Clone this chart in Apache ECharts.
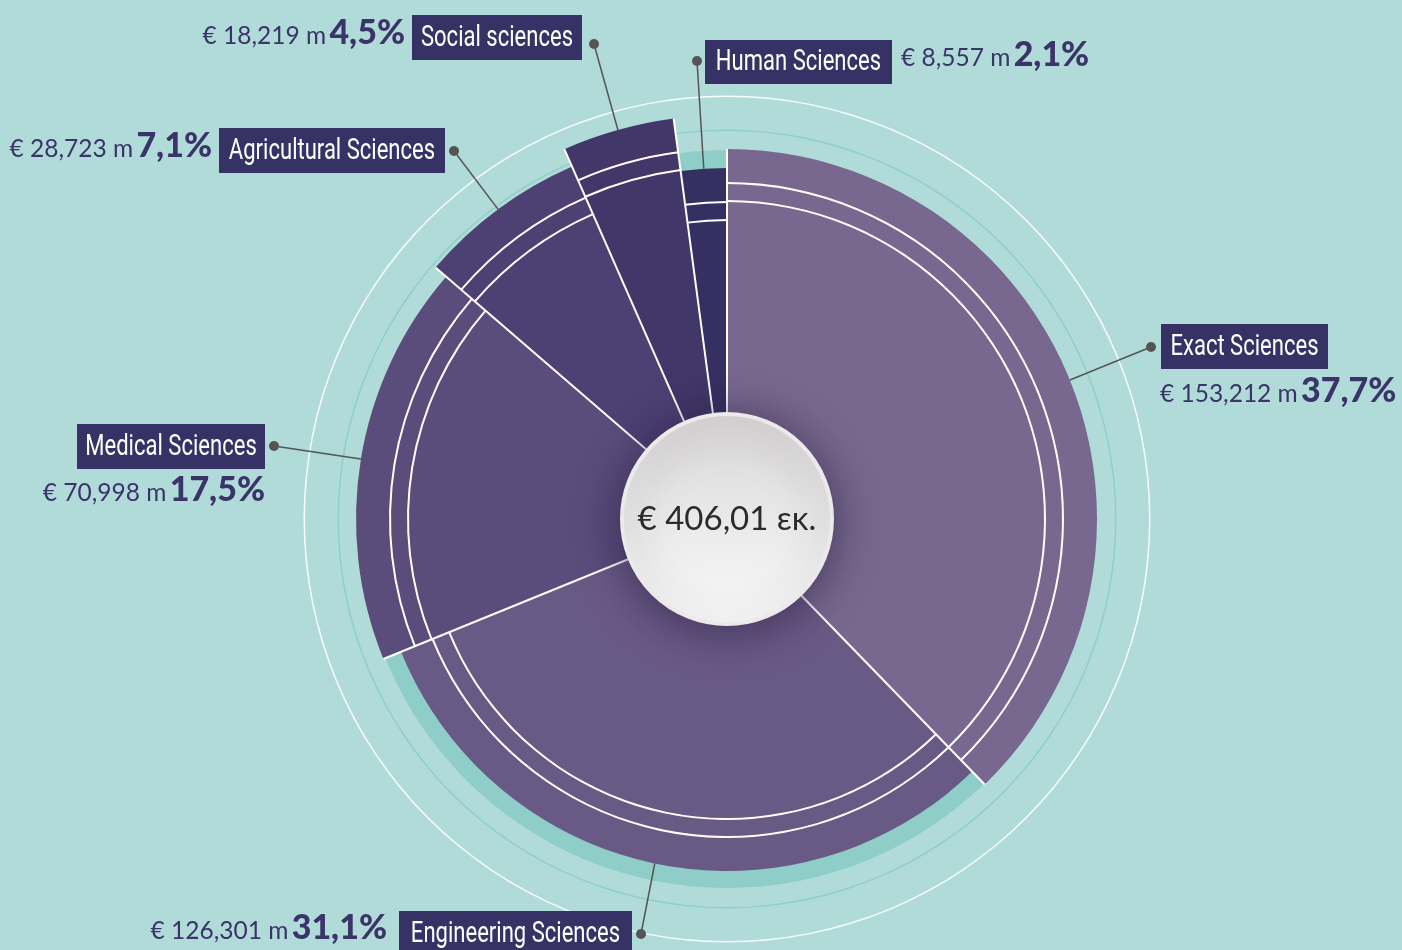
<!DOCTYPE html>
<html>
<head>
<meta charset="utf-8">
<script src="https://cdn.jsdelivr.net/npm/echarts@6/dist/echarts.min.js"></script>
<style>
  html, body { margin: 0; padding: 0; background: #b0dbd9; }
  #main { width: 1402px; height: 950px; }
</style>
</head>
<body>
<div id="main"></div>
<script>
// data (€ millions)
const categories = ['Exact Sciences', 'Engineering Sciences', 'Medical Sciences', 'Agricultural Sciences', 'Social sciences', 'Human Sciences'];
const amounts = [153212, 126301, 70998, 28723, 18219, 8557];
const amountLabels = ['€ 153,212 m', '€ 126,301 m', '€ 70,998 m', '€ 28,723 m', '€ 18,219 m', '€ 8,557 m'];
const percentLabels = ['37,7%', '31,1%', '17,5%', '7,1%', '4,5%', '2,1%'];
const totalLabel = '€ 406,01 εκ.';

// styling
const center = [727, 519];
const innerR = 100;
const segColors = ['#78688f', '#695985', '#5a4c7b', '#4d4073', '#413768', '#363062'];
const outerR = [370, 352, 371, 385, 404, 351];
const navy = '#373265';
const textColor = '#3b3468';

// label placement: box [x, y, w, h], dot [x, y], value text [x, y, align]
const labelPos = [
  { box: [1161, 324, 167, 45], dot: [1151, 347], val: [1160, 391, 'left'] },
  { box: [399, 911, 233, 46], dot: [641, 934], val: [387, 928, 'right'] },
  { box: [77, 424, 188, 45], dot: [274, 446], val: [265, 490, 'right'] },
  { box: [219, 128, 226, 45], dot: [454, 151], val: [212, 146, 'right'] },
  { box: [412, 15, 170, 45], dot: [594, 44], val: [405, 33, 'right'] },
  { box: [705, 40, 187, 44], dot: [697, 61], val: [901, 55, 'left'] }
];

const chart = echarts.init(document.getElementById('main'));

const series = [];
const ring = (r0, r1, color, z) => ({
  type: 'pie', silent: true, animation: false, center, radius: [r0, r1], z,
  label: { show: false }, labelLine: { show: false }, emphasis: { disabled: true },
  data: [{ value: 1, itemStyle: { color } }]
});
series.push(ring(340, 369, '#8fcdc8', 1));
series.push(ring(388, 389.5, '#8ed0c8', 1));
series.push(ring(422, 423.5, 'rgba(255,255,255,0.9)', 1));

const onlyItem = (i, style) => amounts.map((v, j) => ({
  name: categories[j], value: v,
  itemStyle: j === i ? style : { color: 'transparent', borderWidth: 0 }
}));

categories.forEach((c, i) => {
  series.push({
    type: 'pie', silent: true, animation: false, center, radius: [innerR, outerR[i]],
    startAngle: 90, z: 2, label: { show: false }, labelLine: { show: false },
    emphasis: { disabled: true },
    data: onlyItem(i, { color: segColors[i], borderWidth: 0 })
  });
  [34, 52].forEach(k => {
    const r = outerR[i] - k;
    series.push({
      type: 'pie', silent: true, animation: false, center, radius: [r - 1, r + 1],
      startAngle: 90, z: 3, label: { show: false }, labelLine: { show: false },
      emphasis: { disabled: true },
      data: onlyItem(i, { color: '#ffffff', borderWidth: 0 })
    });
  });
});

const total = amounts.reduce((a, b) => a + b, 0);
const graphics = [];
const polar = (ang, r) => [center[0] + r * Math.sin(ang), center[1] - r * Math.cos(ang)];

// white separators between slices
let acc = 0;
amounts.forEach((v, i) => {
  const ang = acc / total * Math.PI * 2;
  const prev = (i + amounts.length - 1) % amounts.length;
  const a = polar(ang, innerR);
  const b = polar(ang, Math.max(outerR[i], outerR[prev]));
  graphics.push({
    type: 'line', z: 90, silent: true,
    shape: { x1: a[0], y1: a[1], x2: b[0], y2: b[1] },
    style: { stroke: '#ffffff', lineWidth: 2 }
  });
  acc += v;
});

// labels
acc = 0;
categories.forEach((c, i) => {
  const mid = (acc + amounts[i] / 2) / total * Math.PI * 2;
  acc += amounts[i];
  const p = labelPos[i];
  const s = polar(mid, outerR[i]);
  graphics.push({
    type: 'line', z: 100, silent: true,
    shape: { x1: s[0], y1: s[1], x2: p.dot[0], y2: p.dot[1] },
    style: { stroke: '#555555', lineWidth: 1.5 }
  });
  graphics.push({
    type: 'circle', z: 101, silent: true,
    shape: { cx: p.dot[0], cy: p.dot[1], r: 5 },
    style: { fill: '#555555' }
  });
  graphics.push({
    type: 'rect', z: 100, silent: true,
    shape: { x: p.box[0], y: p.box[1], width: p.box[2], height: p.box[3] },
    style: { fill: navy }
  });
  graphics.push({
    type: 'text', z: 102, silent: true,
    x: p.box[0] + p.box[2] / 2, y: p.box[1] + p.box[3] / 2 + 1,
    scaleX: 0.76,
    style: {
      text: c, fill: '#ffffff', align: 'center', verticalAlign: 'middle',
      fontSize: 29, fontFamily: 'Roboto'
    }
  });
  graphics.push({
    type: 'text', z: 102, silent: true,
    x: p.val[0], y: p.val[1],
    style: {
      text: '{a|' + amountLabels[i] + '} {b|' + percentLabels[i] + '}',
      align: p.val[2], verticalAlign: 'middle', fill: textColor,
      rich: {
        a: { fontSize: 24.5, fontFamily: 'Lato', fill: textColor, padding: [6, 0, 0, 0] },
        b: { fontSize: 34, fontFamily: 'Lato', fontWeight: 900, fill: textColor }
      }
    }
  });
});

// center disc
graphics.push({
  type: 'circle', z: 110, silent: true,
  shape: { cx: center[0], cy: center[1], r: 105 },
  style: {
    fill: new echarts.graphic.LinearGradient(0, 0, 0, 1, [
      { offset: 0, color: '#d9d7d7' }, { offset: 1, color: '#fbfbfb' }
    ]),
    stroke: '#ebe9e9', lineWidth: 4,
    shadowBlur: 45, shadowColor: 'rgba(35,25,60,0.6)', shadowOffsetY: 4
  }
});
graphics.push({
  type: 'text', z: 111, silent: true,
  x: center[0], y: center[1],
  style: {
    text: totalLabel, fill: '#2b2b2b', align: 'center', verticalAlign: 'middle',
    fontSize: 33, fontFamily: 'Lato'
  }
});

chart.setOption({
  backgroundColor: '#b0dbd9',
  animation: false,
  series,
  graphic: graphics
});
</script>
</body>
</html>
